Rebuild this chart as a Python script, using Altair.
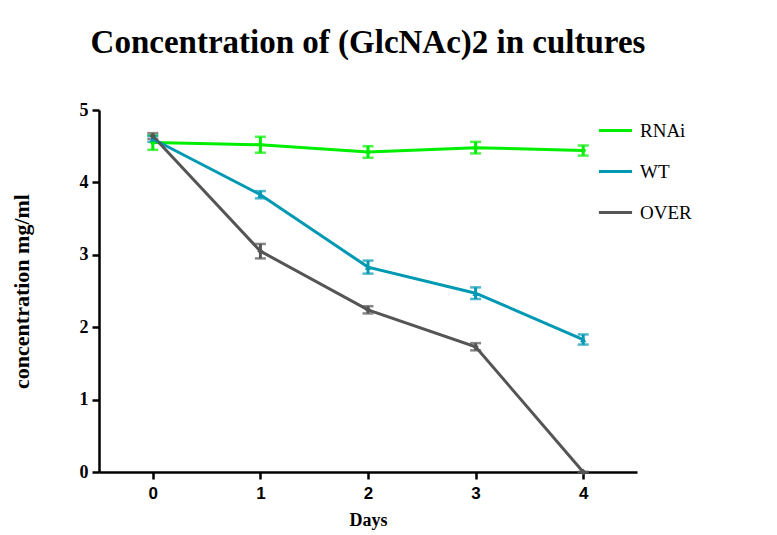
import altair as alt
import pandas as pd

days = [0, 1, 2, 3, 4]
series_names = ["RNAi", "WT", "OVER"]
rnai = [4.55, 4.52, 4.42, 4.48, 4.44]
rnai_err = [0.10, 0.11, 0.08, 0.08, 0.07]
wt = [4.60, 3.83, 2.83, 2.47, 1.83]
wt_err = [0.04, 0.05, 0.09, 0.08, 0.07]
over = [4.64, 3.05, 2.24, 1.73, 0.00]
over_err = [0.04, 0.10, 0.05, 0.05, 0.00]
colors = ["#00ee00", "#0099b3", "#555555"]
shapes = ["diamond", "triangle-up", "diamond"]

rows = []
for name, vals, errs in zip(series_names, [rnai, wt, over], [rnai_err, wt_err, over_err]):
    for d, v, e in zip(days, vals, errs):
        rows.append({"day": d, "value": v, "lo": v - e, "hi": v + e, "series": name, "marker": name})
df = pd.DataFrame(rows)

x_enc = alt.X("day:Q", scale=alt.Scale(domain=[-0.5, 4.5], nice=False, zero=False),
              axis=alt.Axis(values=days, title="Days", format="d",
                            labelFont="Liberation Sans", labelFontSize=17, labelFontWeight="bold",
                            titleFont="Liberation Serif", titleFontSize=18, titleFontWeight="bold",
                            titlePadding=10, labelPadding=6))
y_enc = alt.Y("value:Q", scale=alt.Scale(domain=[0, 5], nice=False),
              axis=alt.Axis(values=[0, 1, 2, 3, 4, 5], title="concentration  mg/ml", format="d",
                            labelFont="Liberation Serif", labelFontSize=18, labelFontWeight="bold",
                            titleFont="Liberation Serif", titleFontSize=22, titleFontWeight="bold",
                            titlePadding=46, labelPadding=4))
color_scale = alt.Scale(domain=series_names, range=colors)
color_enc = alt.Color("series:N", scale=color_scale,
                      legend=alt.Legend(title=None, orient="none", legendX=498, legendY=2,
                                        symbolType="stroke", symbolSize=1100, symbolStrokeWidth=3,
                                        labelFont="Liberation Serif", labelFontSize=19,
                                        rowPadding=12, labelOffset=6))

base = alt.Chart(df)
lines = base.mark_line(strokeWidth=3).encode(x=x_enc, y=y_enc, color=color_enc)
points = base.mark_point(filled=True, size=40, opacity=1).encode(
    x="day:Q", y="value:Q",
    color=alt.Color("series:N", scale=color_scale, legend=None),
    shape=alt.Shape("marker:N", scale=alt.Scale(domain=series_names, range=shapes), legend=None))
err = base.mark_rule(strokeWidth=3).encode(
    x="day:Q", y="lo:Q", y2="hi:Q",
    color=alt.Color("series:N", scale=color_scale, legend=None))
cap_lo = base.mark_tick(thickness=2.5, size=11, orient="horizontal").encode(
    x="day:Q", y="lo:Q",
    color=alt.Color("series:N", scale=color_scale, legend=None))
cap_hi = base.mark_tick(thickness=2.5, size=11, orient="horizontal").encode(
    x="day:Q", y="hi:Q",
    color=alt.Color("series:N", scale=color_scale, legend=None))

chart = alt.layer(lines, err, cap_lo, cap_hi, points).resolve_legend(color="independent").properties(
    width=538, height=362,
    title=alt.TitleParams("Concentration of (GlcNAc)2 in cultures", font="Liberation Serif",
                          fontSize=33, fontWeight="bold", anchor="middle", offset=41),
    autosize=alt.AutoSizeParams(type="none"),
    padding={"left": 91, "top": 102, "right": 130, "bottom": 58},
).configure_view(stroke=None).configure_axis(
    grid=False, domainColor="black", domainWidth=2.5, tickColor="black", tickWidth=2.5, tickSize=7,
    labelColor="black", titleColor="black"
).configure_legend(labelColor="black")

chart.save("out.html", embed_options={"renderer": "svg", "actions": False})
